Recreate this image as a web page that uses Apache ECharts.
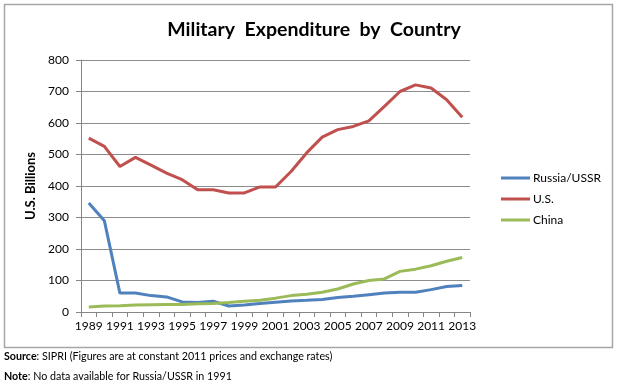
<!DOCTYPE html>
<html>
<head>
<meta charset="utf-8">
<script src="https://cdn.jsdelivr.net/npm/echarts@6/dist/echarts.min.js"></script>
<style>
html,body{margin:0;padding:0;background:#fff;}
#chart{width:620px;height:389px;}
</style>
</head>
<body>
<div id="chart"></div>
<script>
var years = ['1989','1990','1991','1992','1993','1994','1995','1996','1997','1998','1999','2000','2001','2002','2003','2004','2005','2006','2007','2008','2009','2010','2011','2012','2013'];
var russia = [346,290,60,60,52,48,32,30,34,19,22,27,31,35,37,40,46,50,55,60,63,63,71,81,84];
var us = [552,526,462,491,466,441,420,388,388,378,378,397,397,446,505,555,579,589,607,653,700,721,711,674,618];
var china = [16,19,20,22,23,24,24,26,27,30,34,37,44,52,56,63,73,89,100,105,129,136,147,161,173];
var yTicks = {min:0, max:800, interval:100};
var titleText = 'Military  Expenditure  by  Country';
var yName = 'U.S. Billions';

var chart = echarts.init(document.getElementById('chart'));
var font = 'Lato, "Open Sans", sans-serif';
function mk(name, data, color){
  return {name:name, type:'line', data:data, symbol:'none', smooth:false,
    lineStyle:{width:3, color:color}, itemStyle:{color:color}};
}
chart.setOption({
  animation:false,
  title:{text:titleText, left:309, textAlign:'center', top:15,
    textStyle:{fontFamily:font, fontWeight:'bold', fontSize:19.5, color:'#000'}},
  grid:{left:81, right:150, top:60, bottom:77, containLabel:false},
  legend:{orient:'vertical', left:496, top:167, itemWidth:29, itemHeight:3, itemGap:9,
    icon:'rect', data:['Russia/USSR','U.S.','China'],
    textStyle:{fontFamily:font, fontSize:12, color:'#000', padding:[0,0,0,-2]}},
  xAxis:{type:'category', data:years, boundaryGap:true,
    axisLine:{lineStyle:{color:'#868686', width:1}},
    axisTick:{show:true, interval:0, length:5, lineStyle:{color:'#868686'}},
    axisLabel:{interval:1, fontFamily:font, fontSize:12, color:'#000', margin:8}},
  yAxis:{type:'value', min:yTicks.min, max:yTicks.max, interval:yTicks.interval,
    name:yName, nameLocation:'middle', nameGap:43, nameRotate:90,
    nameTextStyle:{fontFamily:font, fontWeight:'bold', fontSize:13, color:'#000'},
    axisLine:{show:true, lineStyle:{color:'#868686'}},
    axisTick:{show:true, length:5, lineStyle:{color:'#868686'}},
    axisLabel:{fontFamily:font, fontSize:12, color:'#000', margin:12},
    splitLine:{lineStyle:{color:'#8c8c8c', width:1}}},
  series:[mk('Russia/USSR', russia, '#4F81BD'), mk('U.S.', us, '#C0504D'), mk('China', china, '#9BBB59')],
  graphic:[
    {type:'rect', shape:{x:4.5, y:4.5, width:608, height:343}, style:{fill:'none', stroke:'#a6a6a6', lineWidth:1.5}, silent:true, z:-1},
    {type:'text', left:4, top:351, style:{text:'{b|Source}: SIPRI (Figures are at constant 2011 prices and exchange rates)',
      rich:{b:{fontWeight:'bold', fontFamily:font, fontSize:10.7, fill:'#000'}}, font:'10.7px Lato, sans-serif', fill:'#000'}},
    {type:'text', left:4, top:371, style:{text:'{b|Note}: No data available for Russia/USSR in 1991',
      rich:{b:{fontWeight:'bold', fontFamily:font, fontSize:10.7, fill:'#000'}}, font:'10.7px Lato, sans-serif', fill:'#000'}}
  ]
});
</script>
</body>
</html>
